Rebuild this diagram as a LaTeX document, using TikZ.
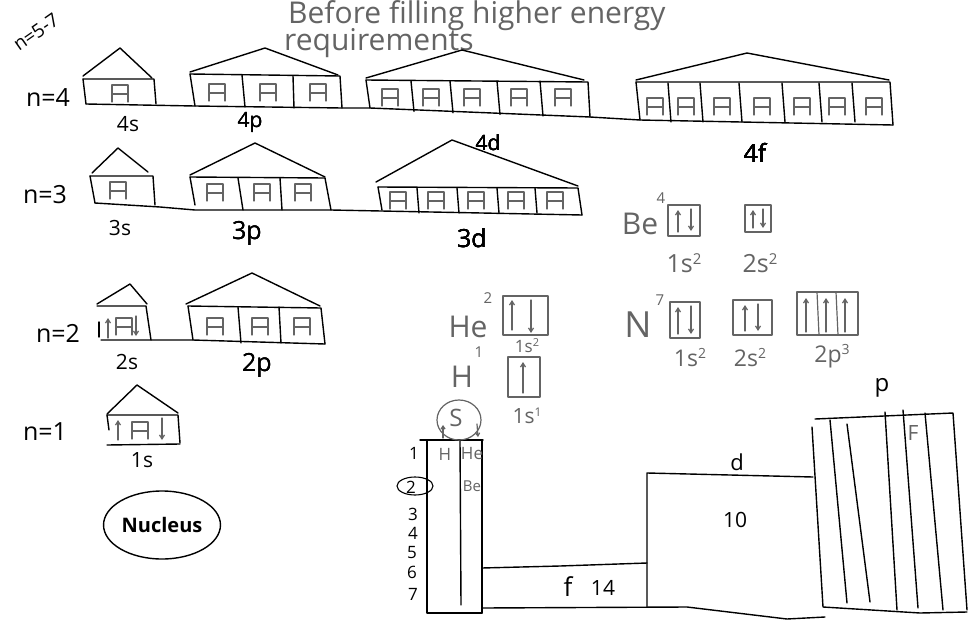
\documentclass[tikz,border=0pt]{standalone}
\usepackage{fontspec}
\setmainfont{Open Sans}
\usetikzlibrary{arrows.meta,shapes.geometric}
\definecolor{pencil}{RGB}{100,100,100}
\tikzset{
  ink/.style={line width=1.4pt, black, line join=round, line cap=round},
  pen/.style={line width=1.2pt, pencil, line join=round, line cap=round},
  spin/.style={pen, -{Straight Barb[length=4pt,width=5pt]}},
  lbl/.style={font=\fontsize{21}{21}\selectfont, inner sep=0pt},
  nlbl/.style={font=\fontsize{25}{25}\selectfont, inner sep=0pt},
  glbl/.style={font=\fontsize{19}{19}\selectfont, text=pencil, inner sep=0pt},
  elem/.style={font=\fontsize{30}{30}\selectfont, text=pencil, inner sep=0pt},
  sup/.style={font=\fontsize{15}{15}\selectfont, text=pencil, inner sep=0pt},
  ttl/.style={glbl, font=\fontsize{30}{30}\selectfont, anchor=west, text height=21pt, text depth=6pt}
}
\newcommand\orbbox[2]{%
  \draw[pen] ({#1-8},{#2+9}) -- ({#1-8},{#2-8}) -- ({#1+8},{#2-8}) -- ({#1+8},{#2+9});
  \draw[pen] ({#1-8},{#2+1}) -- ({#1+8},{#2+1});}
\begin{document}
\begin{tikzpicture}[x=1pt,y=-1pt]
\useasboundingbox (0,0) rectangle (972,624);
\fill[white] (0,0) rectangle (972,624);

% title
\node[ttl] (title1) at (288,16) {Before filling higher energy};
\node[ttl] (title2) at (284,43) {requirements};

% ---------- n = 4 ----------
\node[lbl, rotate=35, font=\fontsize{19}{19}\selectfont] (n57) at (36,32) {n=5-7};
\node[nlbl] (n4) at (48,98) {n=4};
% 4s
\draw[ink] (83,76) -- (120,48) -- (152,78);
\draw[ink] (83,79) -- (154,79) -- (156,104);
\draw[ink] (83,79) -- (86,104);
\orbbox{120}{93}
\node[lbl] (l4s) at (128,124) {4s};
% 4p
\draw[ink] (190,72) -- (265,48) -- (338,75);
\draw[ink] (190,74) -- (340,76) -- (342,108);
\draw[ink] (190,74) -- (195,106);
\draw[ink] (242,75) -- (245,107);
\draw[ink] (293,76) -- (294,108);
\foreach \x in {217,268,318} \orbbox{\x}{92}
\node[lbl] (l4p) at (250,122) {4p};
% 4d
\draw[ink] (366,78) -- (462,50) -- (584,80);
\draw[ink] (366,80) -- (588,82) -- (590,117);
\draw[ink] (366,80) -- (370,108);
\foreach \x in {411,450,497,540} \draw[ink] (\x,81) -- ({\x+3},{110+(\x-370)*0.035});
\foreach \x in {390,431,472,519,563} \orbbox{\x}{97}
\node[lbl] (l4d) at (488,143) {4d};
% 4f
\draw[ink] (636,80) -- (747,53) -- (889,80);
\draw[ink] (636,82) -- (890,82) -- (893,125);
\draw[ink] (636,82) -- (640,120);
\foreach \x in {668,700,739,782,819,852} \draw[ink] (\x,83) -- ({\x+3},122);
\foreach \x in {655,686,722,762,802,837,874} \orbbox{\x}{106}
\node[nlbl] (l4f) at (755,153) {4f};
% baseline n=4
\draw[ink] (86,104) -- (195,106) -- (342,108) -- (370,108) -- (590,117) -- (640,120) -- (893,125);

% ---------- n = 3 ----------
\node[nlbl] (n3) at (45,195) {n=3};
% 3s
\draw[ink] (92,173) -- (118,148) -- (148,172);
\draw[ink] (90,176) -- (153,176) -- (155,205);
\draw[ink] (90,176) -- (95,203);
\orbbox{118}{190}
\node[lbl] (l3s) at (120,228) {3s};
% 3p
\draw[ink] (190,175) -- (255,143) -- (325,177);
\draw[ink] (190,177) -- (325,178) -- (331,210);
\draw[ink] (190,177) -- (195,205);
\draw[ink] (238,178) -- (243,210);
\draw[ink] (280,178) -- (282,210);
\foreach \x in {215,262,303} \orbbox{\x}{192}
\node[nlbl] (l3p) at (247,233) {3p};
% 3d
\draw[ink] (376,182) -- (452,140) -- (578,186);
\draw[ink] (378,187) -- (578,188) -- (582,215);
\draw[ink] (378,187) -- (382,210);
\foreach \x in {417,457,497,535} \draw[ink] (\x,188) -- ({\x+2},213);
\foreach \x in {398,436,476,516,555} \orbbox{\x}{200}
\node[nlbl] (l3d) at (472,238) {3d};
% baseline n=3
\draw[ink] (95,203) -- (160,207) -- (195,210) -- (331,210) -- (582,215);

% ---------- n = 2 ----------
\node[nlbl] (n2) at (58,333) {n=2};
\draw[ink] (99,322) -- (99,337);
% 2s
\draw[ink] (97,304) -- (130,284) -- (147,304);
\draw[ink] (97,306) -- (146,306) -- (151,340);
\orbbox{124}{326}
\draw[spin] (108,338) -- (108,318);
\draw[spin] (136,316) -- (136,336);
\node[lbl] (l2s) at (127,362) {2s};
% 2p
\draw[ink] (186,304) -- (252,273) -- (320,306);
\draw[ink] (188,306) -- (321,308) -- (325,344);
\draw[ink] (188,306) -- (193,340);
\draw[ink] (238,307) -- (241,343);
\draw[ink] (279,307) -- (281,343);
\foreach \x in {215,260,302} \orbbox{\x}{326}
\node[nlbl] (l2p) at (257,365) {2p};
% baseline n=2
\draw[ink] (101,340) -- (193,340) -- (325,344);

% ---------- n = 1 ----------
\node[nlbl] (n1) at (45,432) {n=1};
\draw[ink] (107,414) -- (137,385) -- (178,413);
\draw[ink] (107,415) -- (178,415) -- (180,443);
\draw[ink] (107,415) -- (109,430);
\orbbox{140}{430}
\draw[spin] (118,440) -- (118,420);
\draw[spin] (162,418) -- (162,440);
\draw[ink] (107,445) -- (180,444);
\node[lbl] (l1s) at (142,460) {1s};

% nucleus
\node[draw, ellipse, line width=1.4pt, minimum width=112pt, minimum height=68pt, inner sep=1pt,
      font=\fontsize{20}{20}\selectfont\bfseries] (nuc) at (162,525) {Nucleus};

% ---------- electron configurations ----------
% Be
\node[elem] (be) at (640,224) {Be};
\node[sup] (be4) at (661,198) {4};
\draw[pen] (668,205) rectangle (700,236);
\draw[spin] (678,232) -- (678,210);
\draw[spin] (691,209) -- (691,231);
\draw[pen] (745,205) rectangle (771,232);
\draw[spin] (753,228) -- (753,210);
\draw[spin] (763,209) -- (763,228);
\node[glbl, font=\fontsize{25}{25}\selectfont] (be1s) at (684,263) {1s\raisebox{8pt}{\fontsize{15}{15}\selectfont 2}};
\node[glbl, font=\fontsize{25}{25}\selectfont] (be2s) at (760,263) {2s\raisebox{8pt}{\fontsize{15}{15}\selectfont 2}};
% N
\node[elem, font=\fontsize{36}{36}\selectfont] (nn) at (638,325) {N};
\node[sup] (n7) at (660,300) {7};
\draw[pen] (670,302) rectangle (700,338);
\draw[spin] (678,334) -- (678,307);
\draw[spin] (691,306) -- (691,334);
\draw[pen] (733,300) rectangle (772,335);
\draw[spin] (745,331) -- (745,305);
\draw[spin] (758,304) -- (758,331);
\draw[pen] (797,292) rectangle (858,335);
\draw[pen] (817,292) -- (819,335);
\draw[pen] (836,292) -- (838,335);
\foreach \x in {806,826,845} \draw[spin] (\x,332) -- (\x,298);
\node[glbl, font=\fontsize{23}{23}\selectfont] (n1s) at (690,358) {1s\raisebox{8pt}{\fontsize{14}{14}\selectfont 2}};
\node[glbl, font=\fontsize{23}{23}\selectfont] (n2s) at (750,358) {2s\raisebox{8pt}{\fontsize{14}{14}\selectfont 2}};
\node[glbl, font=\fontsize{23}{23}\selectfont] (n2p) at (832,356) {2p\raisebox{8pt}{\fontsize{14}{14}\selectfont 3}};
% He
\node[elem] (he) at (468,327) {He};
\node[sup] (he2) at (488,298) {2};
\draw[pen] (503,296) rectangle (548,335);
\draw[spin] (512,330) -- (512,300);
\draw[spin] (531,300) -- (531,333);
\node[glbl, font=\fontsize{17}{17}\selectfont] (he1s) at (527,346) {1s\raisebox{6pt}{\fontsize{11}{11}\selectfont 2}};
% H
\node[elem] (hh) at (462,377) {H};
\node[sup] (h1) at (479,352) {1};
\draw[pen] (508,357) rectangle (540,397);
\draw[spin] (523,393) -- (523,362);
\node[glbl, font=\fontsize{21}{21}\selectfont] (h1s) at (527,416) {1s\raisebox{7pt}{\fontsize{12}{12}\selectfont 1}};

% ---------- periodic table outline ----------
% s block
\draw[ink] (420,440) -- (483,440);
\draw[ink] (427,440) -- (427,613) -- (482,613);
\draw[ink] (460,440) -- (461,605);
\draw[ink] (482,440) -- (482,613);
\node[glbl, font=\fontsize{24}{24}\selectfont] (ss) at (456,418) {S};
\draw[pen] (459,420) ellipse [x radius=22, y radius=20];
\draw[pen, -{Straight Barb[length=3pt,width=4pt]}] (443,438) -- (443,425);
\draw[pen, -{Straight Barb[length=3pt,width=4pt]}] (477,424) -- (478,437);
\node[glbl, font=\fontsize{17}{17}\selectfont] (hsym) at (445,454) {H};
\node[glbl, font=\fontsize{17}{17}\selectfont] (hesym) at (472,454) {He};
\node[glbl, font=\fontsize{15}{15}\selectfont] (besym) at (472,486) {Be};
% periods
\node[lbl, font=\fontsize{17}{17}\selectfont] (p1) at (414,453) {1};
\node[lbl, font=\fontsize{17}{17}\selectfont] (p2) at (411,487) {2};
\draw[ink, line width=1.1pt] (415,486) ellipse [x radius=18, y radius=9];
\node[lbl, font=\fontsize{17}{17}\selectfont] (p3) at (413,514) {3};
\node[lbl, font=\fontsize{17}{17}\selectfont] (p4) at (413,533) {4};
\node[lbl, font=\fontsize{17}{17}\selectfont] (p5) at (412,553) {5};
\node[lbl, font=\fontsize{17}{17}\selectfont] (p6) at (412,572) {6};
\node[lbl, font=\fontsize{17}{17}\selectfont] (p7) at (413,594) {7};
% f block
\draw[ink] (482,568) -- (560,566) -- (647,563);
\draw[ink] (482,608) -- (687,607) -- (787,619) -- (825,617);
\node[lbl, font=\fontsize{26}{26}\selectfont] (ff) at (568,587) {f};
\node[lbl] (f14) at (603,588) {14};
% d block
\draw[ink] (647,607) -- (647,473) -- (813,477);
\node[lbl, font=\fontsize{22}{22}\selectfont] (dd) at (737,462) {d};
\node[lbl] (d10) at (735,520) {10};
% p block
\draw[ink] (815,419) -- (953,413) -- (967,610);
\draw[ink] (812,427) -- (823,607) -- (920,613) -- (967,612);
\draw[ink] (830,420) -- (847,603);
\draw[ink] (847,424) -- (870,602);
\draw[ink] (885,412) -- (897,610);
\draw[ink] (903,410) -- (918,608);
\draw[ink] (925,413) -- (943,610);
\node[lbl, font=\fontsize{24}{24}\selectfont] (pp) at (882,388) {p};
\node[glbl, font=\fontsize{21}{21}\selectfont] (fsym) at (913,433) {F};
\end{tikzpicture}
\end{document}
